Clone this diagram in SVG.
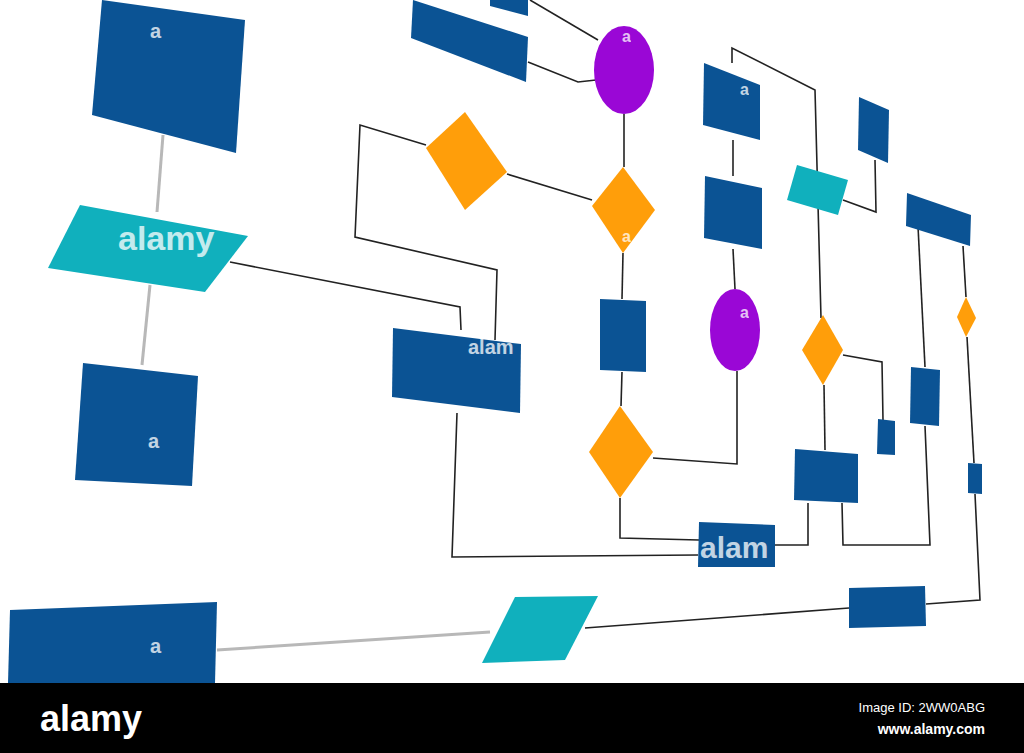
<svg xmlns="http://www.w3.org/2000/svg" width="1024" height="753" viewBox="0 0 1024 753">
<style>
.b{fill:#0b5394}.c{fill:#10b0bd}.o{fill:#ff9e0a}.p{fill:#9a07d6}
#connectors polyline{fill:none;stroke:#222;stroke-width:1.6}
#connectors .g{stroke:#b8b8b8;stroke-width:3}
.w{font-family:"Liberation Sans",Arial,sans-serif;fill:#fff;font-weight:bold}
.wm{fill:#fff;opacity:.75;font-family:"Liberation Sans",Arial,sans-serif;font-weight:bold}
</style>
<rect width="1024" height="753" fill="#fff"/>
<g id="connectors">
<polyline class="g" points="163,135 157,212"/>
<polyline class="g" points="150,285 142,365"/>
<polyline class="g" points="217,650 490,632"/>
<polyline points="230,262 460,307 461,330" stroke="#888"/>
<polyline points="426,145 360,125 355,237 497,270 495,340" stroke="#777"/>
<polyline points="507,174 592,200"/>
<polyline points="528,62 578,82 596,80"/>
<polyline points="530,0 598,40"/>
<polyline points="624,114 624,167"/>
<polyline points="623,253 622,299"/>
<polyline points="622,372 621,406"/>
<polyline points="620,498 620,538 699,540"/>
<polyline points="653,458 737,464 737,371"/>
<polyline points="735,289 733,249"/>
<polyline points="733,140 733,176"/>
<polyline points="732,63 732,48 815,90 821,318"/>
<polyline points="824,385 825,450"/>
<polyline points="843,200 876,212 875,160"/>
<polyline points="843,355 882,362 883,420"/>
<polyline points="918,226 925,367"/>
<polyline points="925,426 930,545 843,545 842,503"/>
<polyline points="808,503 808,545 775,545"/>
<polyline points="457,413 452,557 698,555" stroke="#555"/>
<polyline points="963,246 966,297" stroke="#888"/>
<polyline points="967,337 974,463" stroke="#888"/>
<polyline points="975,494 980,600 926,604" stroke="#888"/>
<polyline points="585,628 849,608"/>
</g>
<g id="n1"><polygon class="b" points="102,0 245,20 236,153 92,115"/><text class="wm" x="150" y="38" font-size="20">a</text></g>
<g id="n2"><polygon class="c" points="80,205 248,236 205,292 48,268"/><text class="wm" x="118" y="250" font-size="34">alamy</text></g>
<g id="n3"><polygon class="b" points="83,363 198,376 192,486 75,480"/><text class="wm" x="148" y="448" font-size="20">a</text></g>
<g id="n4"><polygon class="b" points="10,610 217,602 215,683 8,683"/><text class="wm" x="150" y="653" font-size="20">a</text></g>
<g id="n5"><polygon class="c" points="515,597 598,596 565,660 482,663"/></g>
<g id="n6"><polygon class="b" points="413,0 528,37 526,82 411,38"/><polygon class="b" points="490,0 528,0 528,16 490,6"/></g>
<g id="n7"><ellipse class="p" cx="624" cy="70" rx="30" ry="44"/><text class="wm" x="622" y="42" font-size="16">a</text></g>
<g id="n8"><polygon class="o" points="465,112 507,172 465,210 426,148"/></g>
<g id="n9"><polygon class="o" points="623,167 655,210 623,253 592,206"/><text class="wm" x="622" y="242" font-size="16">a</text></g>
<g id="n10"><polygon class="b" points="393,328 521,344 520,413 392,397"/><text class="wm" x="468" y="354" font-size="20">alam</text></g>
<g id="n11"><polygon class="b" points="600,299 646,301 646,372 600,370"/></g>
<g id="n12"><polygon class="o" points="620,406 653,452 620,498 589,452"/></g>
<g id="n13"><ellipse class="p" cx="735" cy="330" rx="25" ry="41"/><text class="wm" x="740" y="318" font-size="16">a</text></g>
<g id="n14"><polygon class="b" points="704,63 760,85 760,140 703,125"/><text class="wm" x="740" y="95" font-size="16">a</text></g>
<g id="n15"><polygon class="b" points="705,176 762,188 762,249 704,238"/></g>
<g id="n16"><polygon class="c" points="797,165 848,180 838,215 787,200"/></g>
<g id="n17"><polygon class="b" points="859,97 889,110 888,163 858,150"/></g>
<g id="n18"><polygon class="b" points="907,193 971,215 970,246 906,226"/></g>
<g id="n19"><polygon class="o" points="966,297 976,318 966,337 957,317"/></g>
<g id="n20"><polygon class="o" points="823,315 843,350 823,385 802,350"/></g>
<g id="n21"><polygon class="b" points="911,367 940,370 939,426 910,423"/></g>
<g id="n22"><polygon class="b" points="878,419 895,421 895,455 877,454"/></g>
<g id="n23"><polygon class="b" points="968,463 982,464 982,494 968,493"/></g>
<g id="n24"><polygon class="b" points="795,449 858,454 858,503 794,500"/></g>
<g id="n25"><polygon class="b" points="699,522 775,525 775,567 698,567"/><text class="wm" x="700" y="558" font-size="30">alam</text></g>
<g id="n26"><polygon class="b" points="849,588 925,586 926,626 849,628"/></g>
<g id="bar">
<rect x="0" y="683" width="1024" height="70" fill="#000"/>
<text class="w" x="40" y="731" font-size="36">alamy</text>
<text x="985" y="712" font-size="13" fill="#fff" font-family="Liberation Sans,Arial,sans-serif" text-anchor="end">Image ID: 2WW0ABG</text>
<text x="985" y="734" font-size="14" fill="#fff" font-weight="bold" font-family="Liberation Sans,Arial,sans-serif" text-anchor="end">www.alamy.com</text>
</g>
</svg>
